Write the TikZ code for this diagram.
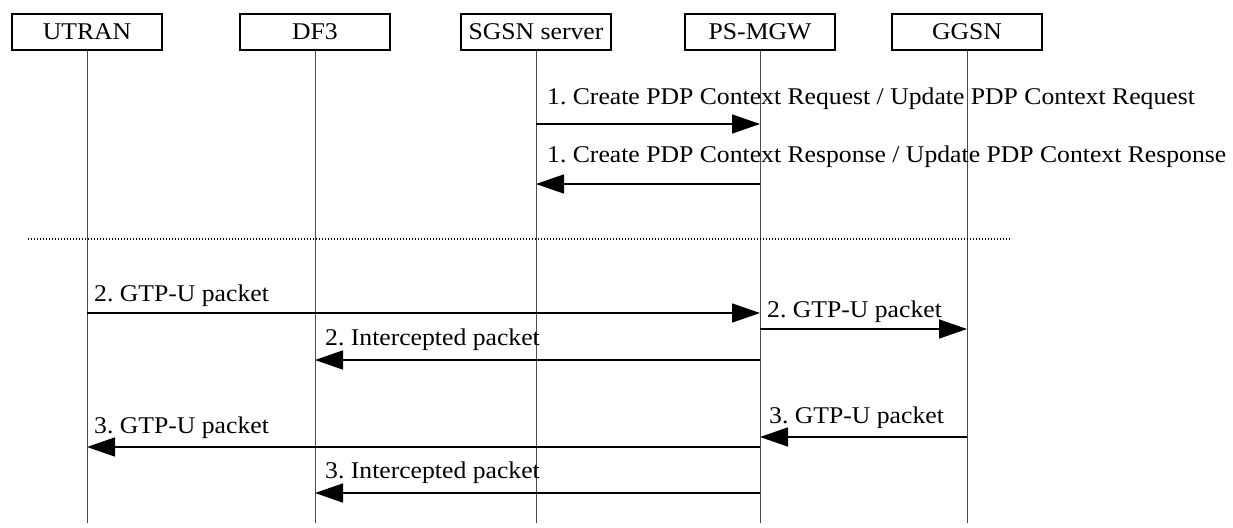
\documentclass[tikz,border=0pt]{standalone}
\usepackage{fontspec}
\setmainfont{Liberation Serif}[FakeStretch=1.07]
\usetikzlibrary{arrows.meta}
\frenchspacing

\begin{document}
\begin{tikzpicture}[x=1pt, y=-1pt,
    entity/.style={draw, line width=1.5pt, minimum width=150pt, minimum height=36pt,
      inner sep=0pt, font=\fontsize{24}{28}\selectfont},
    life/.style={line width=1pt, black!70},
    msg/.style={line width=1.6pt, -{Triangle[length=28pt, width=19pt]}},
    lbl/.style={anchor=base west, inner sep=0pt, font=\fontsize{24}{28}\selectfont}]
    \useasboundingbox (0, 0) rectangle (1233, 527);

    \node [entity] (utran) at (87, 32) {UTRAN};
    \node [entity] (df3) at (315, 32) {DF3};
    \node [entity] (sgsn) at (536, 32) {SGSN server};
    \node [entity] (psmgw) at (760, 32) {PS-MGW};
    \node [entity] (ggsn) at (967, 32) {GGSN};

    \foreach \n in {utran, df3, sgsn, psmgw, ggsn}
      \draw [life] (\n.south) -- (\n |- 0, 523);

    \draw [msg] (sgsn |- 0, 124) -- (psmgw |- 0, 124);
    \node [lbl] (req) at (547, 104) {1. Create PDP Context Request / Update PDP Context Request};

    \draw [msg] (psmgw |- 0, 184) -- (sgsn |- 0, 184);
    \node [lbl] (resp) at (547, 162) {1. Create PDP Context Response / Update PDP Context Response};

    \draw [line width=1.2pt, dash pattern=on 1.2pt off 1.8pt] (28, 239) -- (1012, 239);

    \draw [msg] (utran |- 0, 313) -- (psmgw |- 0, 313);
    \node [lbl] (up1) at (94, 301) {2. GTP-U packet};

    \draw [msg] (psmgw |- 0, 329) -- (ggsn |- 0, 329);
    \node [lbl] (up2) at (767, 317) {2. GTP-U packet};

    \draw [msg] (psmgw |- 0, 360) -- (df3 |- 0, 360);
    \node [lbl] (icpt2) at (325, 345) {2. Intercepted packet};

    \draw [msg] (ggsn |- 0, 437) -- (psmgw |- 0, 437);
    \node [lbl] (dn1) at (769, 423) {3. GTP-U packet};

    \draw [msg] (psmgw |- 0, 447) -- (utran |- 0, 447);
    \node [lbl] (dn2) at (94, 433) {3. GTP-U packet};

    \draw [msg] (psmgw |- 0, 493) -- (df3 |- 0, 493);
    \node [lbl] (icpt3) at (325, 478) {3. Intercepted packet};
\end{tikzpicture}
\end{document}
